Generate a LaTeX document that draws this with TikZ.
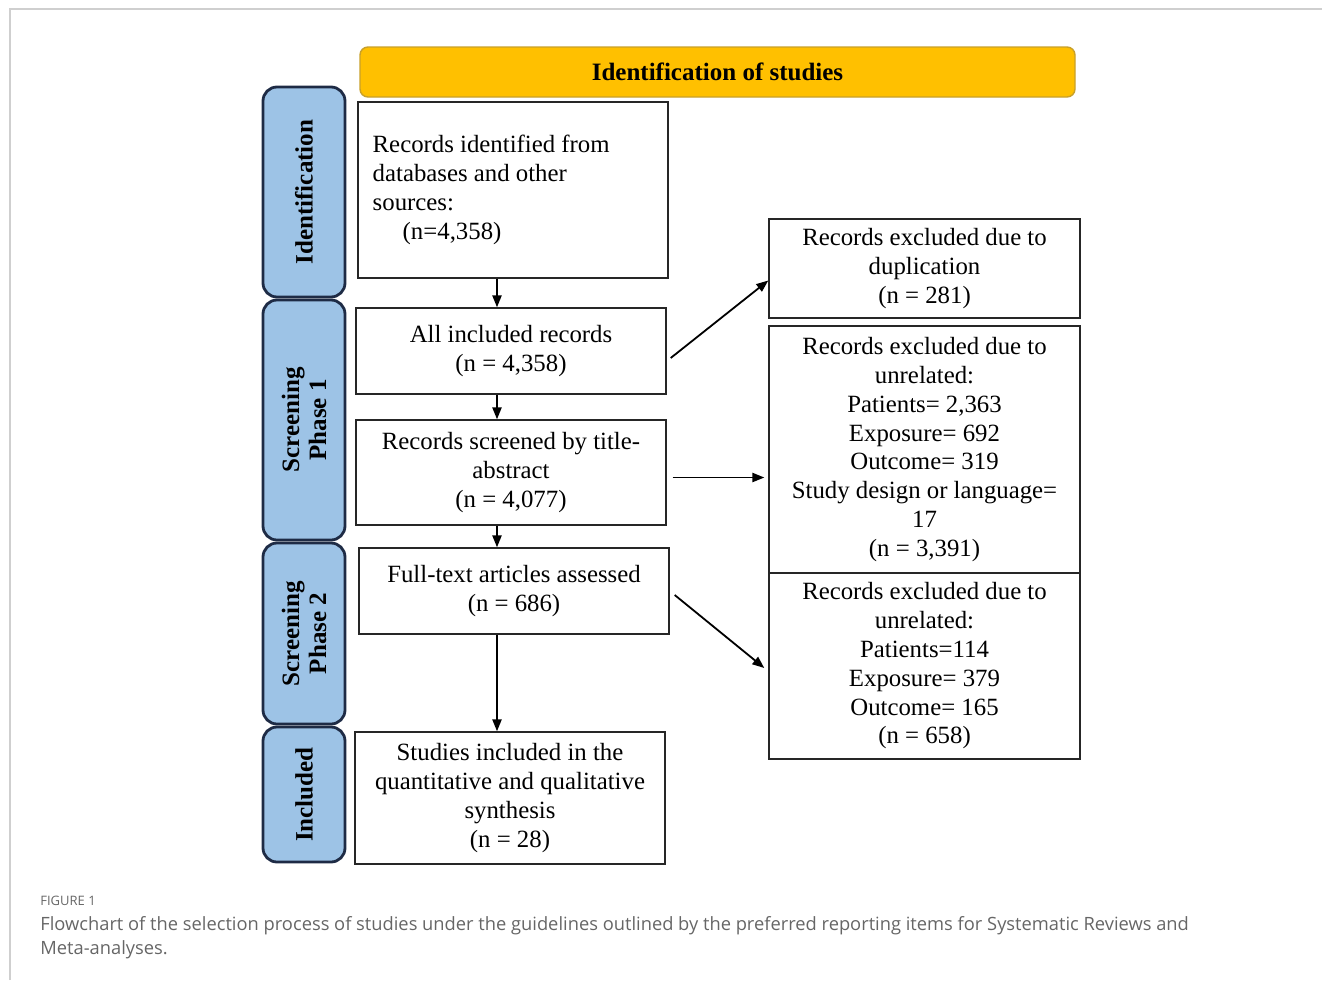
\documentclass[tikz,border=0pt]{standalone}
\usepackage{fontspec}
\setmainfont{Liberation Serif}
\newfontfamily\capfont{Open Sans}
\usetikzlibrary{arrows.meta,positioning,calc}
\definecolor{gold}{HTML}{FFC000}
\definecolor{golddark}{HTML}{C8A02A}
\definecolor{sideblue}{HTML}{9DC3E6}
\definecolor{navy}{HTML}{1E2B45}
\definecolor{frame}{HTML}{CFCFCF}
\definecolor{capgray}{HTML}{666666}

\begin{document}
\begin{tikzpicture}[x=0.5pt, y=-0.5pt, font=\fontsize{12.4}{14.4}\selectfont,
  >={Triangle[length=6pt,width=4.6pt]},
  box/.style={draw=black!85, line width=0.7pt, align=center, inner sep=2pt, fill=white, minimum width=155pt},
  rbox/.style={box, minimum width=155.5pt},
  side/.style={draw=navy, line width=1.4pt, rounded corners=7pt, fill=sideblue, minimum width=41pt},
  sidetxt/.style={rotate=90, align=center, font=\fontsize{12.5}{13.5}\selectfont\bfseries},
  flow/.style={->, line width=0.9pt, draw=black}]

\useasboundingbox (0,0) rectangle (1322,980);
\draw[frame, line width=0.6pt] (10,980) -- (10,9) -- (1322,9);

% ---------------- header
\node[draw=golddark, line width=0.7pt, fill=gold, rounded corners=4pt, minimum width=357.5pt, minimum height=25pt,
  font=\fontsize{12.5}{14}\selectfont\bfseries] (hdr) at (717.5,72) {Identification of studies};

% ---------------- phase labels
\node[side, minimum height=105pt] (sid) at (304,192) {};
\node[sidetxt] at (sid) {Identification};
\node[side, minimum height=120pt] (sp1) at (304,420) {};
\node[sidetxt] at (sp1) {Screening\\Phase 1};
\node[side, minimum height=90.5pt] (sp2) at (304,633.5) {};
\node[sidetxt] at (sp2) {Screening\\Phase 2};
\node[side, minimum height=67.5pt] (sinc) at (304,794.5) {};
\node[sidetxt] at (sinc) {Included};

% ---------------- main column
\node[box, minimum height=88pt] (idrec) at (513,190) {};
\node[anchor=west, align=left, inner sep=0pt] (idtxt) at ($(idrec.west)+(15,0)$)
  {Records identified from\\ databases and other\\ sources:\\ \hspace*{15pt}(n=4,358)};
\node[box, minimum height=43pt] (allrec) at (511,351) {All included records\\ (n = 4,358)};
\node[box, minimum height=52.5pt] (scr) at (511,472.5) {Records screened by title-\\ abstract\\ (n = 4,077)};
\node[box, minimum height=43pt] (full) at (514,591) {Full-text articles assessed\\ (n = 686)};
\node[box, minimum height=66pt] (incl) at (510,798)
  {Studies included in the\\ quantitative and qualitative\\ synthesis\\ (n = 28)};

% ---------------- exclusions
\node[rbox, minimum height=49.5pt] (dup) at (924.5,268.5) {Records excluded due to\\ duplication\\ (n = 281)};
\node[rbox, minimum height=123.5pt] (unr1) at (924.5,449.5)
  {Records excluded due to\\ unrelated:\\ Patients= 2,363\\ Exposure= 692\\ Outcome= 319\\
   Study design or language=\\ 17\\ (n = 3,391)};
\node[rbox, minimum height=93pt] (unr2) at (924.5,666)
  {Records excluded due to\\ unrelated:\\ Patients=114\\ Exposure= 379\\ Outcome= 165\\ (n = 658)};

% ---------------- arrows
\coordinate (vx) at (497,0);
\draw[flow] (idrec.south -| vx) -- (allrec.north -| vx);
\draw[flow] (allrec.south -| vx) -- (scr.north -| vx);
\draw[flow] (scr.south -| vx) -- (full.north -| vx);
\draw[flow] (full.south -| vx) -- (incl.north -| vx);
\draw[flow] ($(allrec.east)+(4,7)$) -- ($(dup.west)+(0,12)$);
\draw[flow] ($(scr.east)+(6,5)$) -- ($(unr1.west)+(-4,28)$);
\draw[flow] ($(full.east)+(5,4)$) -- ($(unr2.west)+(-4,2)$);

% ---------------- caption
\node[anchor=base west, font=\capfont\fontsize{6.5}{8}\selectfont, text=capgray, inner sep=0pt] (fig) at (40,905) {FIGURE 1};
\node[anchor=north west, font=\capfont\fontsize{9.15}{12}\selectfont, text=capgray, inner sep=0pt, align=left] (cap) at (40,916)
  { Flowchart of the selection process of studies under the guidelines outlined by the preferred reporting items for Systematic Reviews and\\
   Meta-analyses.};
\end{tikzpicture}
\end{document}
